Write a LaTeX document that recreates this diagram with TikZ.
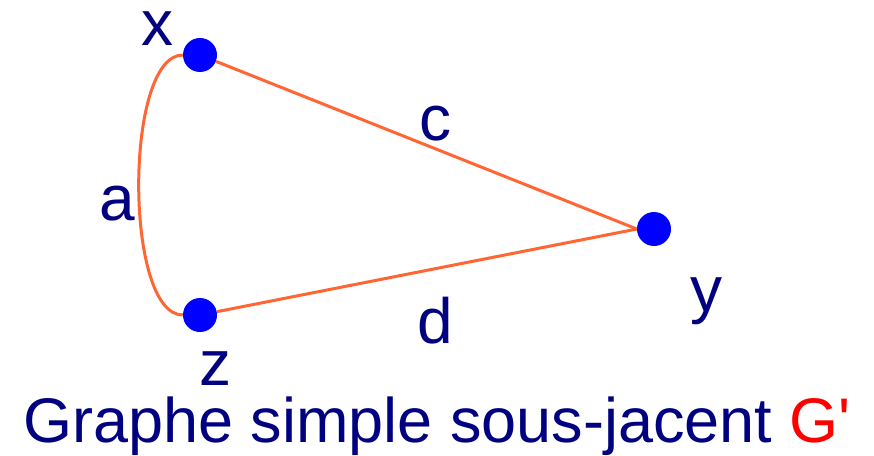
\documentclass[tikz,border=0pt]{standalone}
\usepackage{fontspec}
\setmainfont{Liberation Sans}[Ligatures=TeXOff]
\usetikzlibrary{positioning}
\definecolor{marine}{HTML}{000080}
\definecolor{sommetbleu}{HTML}{0000FF}
\definecolor{arete}{HTML}{FF6633}
\definecolor{rouge}{HTML}{FF0000}
\tikzset{
  sommet/.style={circle, fill=sommetbleu, draw=none, minimum size=34pt, inner sep=0pt},
  lien/.style={draw=arete, line width=3pt},
  nom/.style={font=\fontsize{64}{64}\selectfont, text=marine, inner sep=0pt, anchor=base},
}

\begin{document}
\begin{tikzpicture}[x=1pt, y=-1pt]
    \useasboundingbox (0,0) rectangle (874,455);
    \node[sommet] (x) at (200,55) {};
    \node[sommet] (y) at (654,229) {};
    \node[sommet] (z) at (200,315) {};

    \draw[lien] (x.west) to[out=180, in=180, looseness=0.58] (z.west);
    \draw[lien] (x) -- (y.west);
    \draw[lien] (z) -- (y.west);

    \node[nom] (nx) at (157,45) {x};
    \node[nom] (ny) at (706,311) {y};
    \node[nom] (nz) at (215,385) {z};
    \node[nom] (na) at (117,220) {a};
    \node[nom] (nc) at (435,140) {c};
    \node[nom] (nd) at (435,343) {d};

    \node[nom, font=\fontsize{63}{63}\selectfont] (titre) at (437,442)
      {Graphe simple sous-jacent \textcolor{rouge}{G'}};
\end{tikzpicture}
\end{document}
